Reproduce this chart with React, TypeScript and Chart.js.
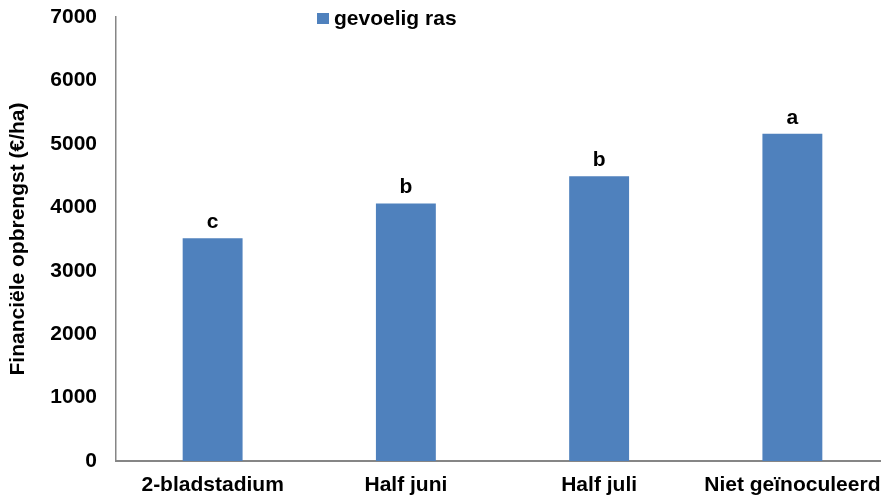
import React, { useEffect, useRef } from "react";
import { Chart, registerables } from "chart.js";

Chart.register(...registerables);

const categories = ["2-bladstadium", "Half juni", "Half juli", "Niet geïnoculeerd"];
const values = [3510, 4060, 4490, 5160];
const letters = ["c", "b", "b", "a"];
const seriesLabel = "gevoelig ras";
const yTitle = "Financiële opbrengst (€/ha)";

const BAR = "#4F81BD";
const AXIS = "#868686";
const FONT = "'Liberation Sans', Arial, sans-serif";

export default function App() {
  const ref = useRef<HTMLCanvasElement | null>(null);

  useEffect(() => {
    if (!ref.current) return;
    const lettersPlugin = {
      id: "letters",
      afterDatasetsDraw(chart: any) {
        const ctx = chart.ctx;
        const meta = chart.getDatasetMeta(0);
        ctx.save();
        ctx.fillStyle = "#000";
        ctx.font = `bold 21px ${FONT}`;
        ctx.textAlign = "center";
        ctx.textBaseline = "alphabetic";
        meta.data.forEach((el: any, i: number) => {
          ctx.fillText(letters[i], el.x, el.y - 10);
        });
        ctx.restore();
      },
    };
    const legendPlugin = {
      id: "customLegend",
      afterDraw(chart: any) {
        const ctx = chart.ctx;
        const area = chart.chartArea;
        ctx.save();
        const x = area.left + 201;
        const y = area.top + 2;
        ctx.fillStyle = BAR;
        ctx.fillRect(x, y - 6, 12, 11);
        ctx.fillStyle = "#000";
        ctx.font = `bold 21px ${FONT}`;
        ctx.textAlign = "left";
        ctx.textBaseline = "middle";
        ctx.fillText(seriesLabel, x + 17, y);
        ctx.restore();
      },
    };
    const chart = new Chart(ref.current, {
      type: "bar",
      data: {
        labels: categories,
        datasets: [
          {
            label: seriesLabel,
            data: values,
            backgroundColor: BAR,
            borderWidth: 0,
            categoryPercentage: 1,
            barPercentage: 0.31,
          },
        ],
      },
      options: {
        animation: false,
        responsive: false,
        layout: { padding: { top: 17, right: 0, left: 0, bottom: 0 } },
        plugins: {
          legend: { display: false },
          tooltip: { enabled: false },
        },
        scales: {
          x: {
            grid: { display: false, drawTicks: false },
            border: { color: AXIS, width: 2 },
            ticks: {
              color: "#000",
              font: { family: FONT, size: 21, weight: "bold" },
              padding: 12,
              maxRotation: 0,
              autoSkip: false,
            },
            afterFit(axis: any) {
              axis.height = 36;
              axis.paddingLeft = 0;
              axis.paddingRight = 0;
            },
          },
          y: {
            min: 0,
            max: 7000,
            ticks: {
              stepSize: 1000,
              color: "#000",
              font: { family: FONT, size: 21, weight: "bold" },
              padding: 13,
              callback: (v: any) => String(v),
            },
            grid: { display: false, drawTicks: true, tickLength: 6, tickColor: AXIS, tickWidth: 1.5 },
            border: { color: AXIS, width: 1.5 },
            title: {
              display: true,
              text: yTitle,
              color: "#000",
              font: { family: FONT, size: 21, weight: "bold" },
              padding: { top: 6, bottom: 0 },
            },
            afterFit(axis: any) {
              axis.width = 116;
              axis.paddingTop = 0;
              axis.paddingBottom = 0;
            },
          },
        },
      },
      plugins: [lettersPlugin, legendPlugin],
    });
    return () => chart.destroy();
  }, []);

  return (
    <div style={{ position: "absolute", left: 0, top: 0, width: 881, height: 497, overflow: "hidden", background: "#fff" }}>
      <canvas ref={ref} width={889} height={497} style={{ display: "block" }} />
    </div>
  );
}
